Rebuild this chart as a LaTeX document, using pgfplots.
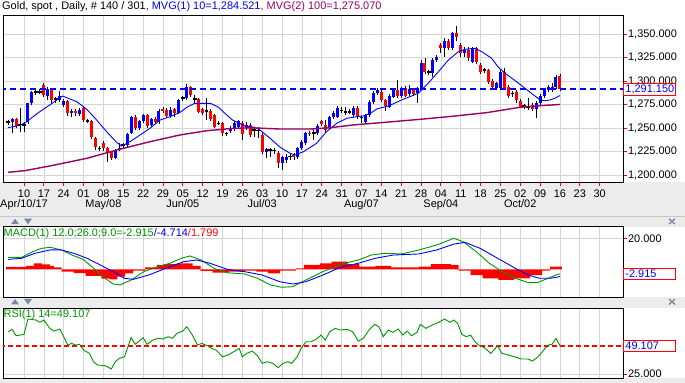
\documentclass[border=0pt]{standalone}
\usepackage{pgfplots}
\pgfplotsset{compat=1.18}
\usepackage{pgfplotstable}
\usepackage{fontspec}
\setmainfont{Liberation Sans}
\definecolor{mvgtwo}{RGB}{153,0,102}
\definecolor{gridc}{RGB}{212,212,212}
\definecolor{bandc}{RGB}{236,236,236}
\definecolor{macdg}{RGB}{0,150,0}
\definecolor{arrowc}{RGB}{120,135,170}
\definecolor{dashblue}{RGB}{0,0,255}
\definecolor{dashred}{RGB}{255,0,0}

\pgfplotstableread{
i o h l c
1 1256.3 1259.0 1253.0 1256.5
2 1256.7 1261.0 1244.3 1259.6
3 1259.6 1261.0 1250.0 1252.1
4 1254.0 1270.9 1246.1 1254.2
5 1253.3 1256.0 1246.0 1253.5
6 1256.7 1277.0 1255.0 1276.2
7 1276.2 1289.5 1275.0 1288.6
8 1289.0 1290.0 1285.0 1288.8
9 1288.5 1291.0 1286.0 1288.7
10 1295.7 1297.5 1284.0 1285.1
11 1284.0 1294.0 1279.8 1291.0
12 1290.4 1292.0 1277.0 1279.8
13 1280.8 1283.0 1277.0 1281.0
14 1279.8 1289.0 1278.0 1284.0
15 1274.2 1281.0 1272.0 1278.8
16 1279.1 1280.0 1263.0 1265.6
17 1265.6 1270.0 1262.0 1268.4
18 1268.4 1270.0 1263.0 1265.6
19 1264.9 1271.0 1263.0 1269.1
20 1270.9 1272.0 1257.0 1258.5
21 1258.0 1259.5 1256.0 1257.8
22 1257.8 1259.0 1238.0 1240.1
23 1239.0 1240.0 1227.0 1229.4
24 1228.6 1231.0 1226.0 1228.4
25 1234.4 1236.0 1226.0 1228.4
26 1228.4 1230.0 1214.2 1224.1
27 1224.8 1226.0 1216.0 1218.4
28 1218.4 1228.0 1217.0 1226.6
29 1226.6 1233.7 1225.9 1229.1
30 1231.6 1234.0 1229.0 1231.9
31 1231.9 1245.0 1230.0 1243.6
32 1245.0 1263.0 1244.0 1261.3
33 1261.3 1264.0 1248.0 1249.6
34 1249.6 1259.0 1248.0 1257.4
35 1257.4 1265.0 1256.0 1263.8
36 1263.8 1265.0 1251.0 1252.1
37 1253.2 1261.0 1252.0 1259.2
38 1259.2 1262.0 1255.0 1256.7
39 1256.7 1270.0 1255.0 1268.4
40 1269.9 1272.0 1266.0 1268.4
41 1269.1 1271.0 1261.0 1262.8
42 1262.8 1272.0 1261.0 1269.1
43 1269.9 1271.0 1262.0 1265.6
44 1266.3 1281.0 1265.0 1279.8
45 1282.0 1284.0 1279.0 1282.3
46 1281.6 1297.0 1280.0 1294.0
47 1294.0 1295.0 1283.0 1285.1
48 1280.8 1285.1 1276.2 1281.0
49 1280.8 1282.0 1266.0 1267.4
50 1269.9 1271.0 1264.0 1266.3
51 1268.4 1281.6 1258.5 1268.2
52 1268.4 1270.0 1258.0 1259.2
53 1263.8 1265.0 1250.0 1251.4
54 1255.0 1257.0 1253.0 1255.2
55 1255.0 1256.0 1242.0 1244.3
56 1244.3 1246.0 1241.0 1244.5
57 1247.1 1252.0 1245.0 1249.7
58 1248.6 1257.0 1247.0 1255.0
59 1251.4 1259.0 1250.0 1257.4
60 1255.0 1257.0 1237.2 1243.6
61 1249.7 1256.0 1248.0 1253.2
62 1253.0 1255.0 1241.0 1243.0
63 1247.6 1251.4 1240.8 1247.9
64 1248.0 1251.4 1239.7 1247.8
65 1242.6 1245.0 1222.0 1224.8
66 1224.8 1229.0 1217.7 1227.3
67 1226.4 1229.1 1219.5 1226.6
68 1226.6 1229.0 1222.0 1226.4
69 1223.0 1225.0 1207.1 1212.4
70 1212.4 1220.0 1205.3 1218.8
71 1216.0 1222.0 1213.0 1219.5
72 1219.5 1222.0 1216.0 1219.7
73 1221.3 1223.0 1216.0 1218.8
74 1218.8 1230.0 1217.0 1228.4
75 1228.4 1237.0 1227.0 1235.4
76 1233.7 1246.0 1232.0 1244.3
77 1245.0 1247.0 1242.0 1243.6
78 1244.8 1249.7 1237.2 1245.0
79 1245.0 1254.0 1243.0 1252.1
80 1257.4 1259.0 1252.0 1254.3
81 1253.2 1258.5 1246.0 1247.9
82 1249.7 1263.0 1248.0 1261.4
83 1261.4 1268.0 1260.0 1266.3
84 1262.0 1273.0 1261.0 1271.0
85 1268.9 1272.0 1266.0 1269.1
86 1267.5 1272.7 1263.8 1267.3
87 1267.3 1270.0 1265.0 1267.5
88 1263.8 1273.0 1262.0 1271.0
89 1271.0 1273.0 1260.0 1261.4
90 1261.2 1264.0 1255.0 1261.4
91 1256.7 1265.0 1255.0 1263.8
92 1263.8 1280.0 1262.0 1278.0
93 1278.0 1289.0 1276.0 1287.6
94 1287.6 1293.0 1285.0 1290.4
95 1288.6 1291.0 1278.0 1279.8
96 1279.8 1281.0 1268.4 1273.4
97 1272.7 1286.0 1271.0 1284.0
98 1283.3 1292.0 1282.0 1290.4
99 1290.4 1301.1 1282.0 1284.0
100 1284.0 1294.0 1282.0 1292.2
101 1292.2 1295.0 1283.0 1284.0
102 1286.2 1296.0 1285.0 1291.5
103 1290.4 1292.0 1284.0 1286.2
104 1286.9 1294.0 1276.6 1292.2
105 1292.2 1322.0 1290.0 1318.8
106 1318.8 1324.0 1308.0 1309.9
107 1309.7 1312.0 1306.0 1309.9
108 1308.2 1324.0 1304.0 1322.3
109 1322.3 1328.0 1320.0 1325.8
110 1338.3 1340.0 1330.0 1334.8
111 1334.8 1346.0 1326.0 1342.8
112 1342.8 1345.0 1333.0 1334.8
113 1334.8 1352.0 1333.0 1350.7
114 1350.7 1358.8 1343.0 1347.1
115 1338.3 1340.0 1325.0 1329.5
116 1329.5 1336.0 1325.0 1333.0
117 1333.0 1336.0 1321.0 1324.1
118 1320.6 1336.0 1319.0 1334.8
119 1334.8 1336.0 1318.0 1320.6
120 1317.0 1319.0 1307.0 1309.9
121 1311.5 1314.0 1309.0 1311.7
122 1311.7 1313.0 1297.0 1299.3
123 1300.0 1302.0 1291.0 1293.9
124 1292.2 1299.0 1290.0 1297.5
125 1292.2 1312.0 1291.0 1309.9
126 1309.9 1314.0 1290.0 1292.2
127 1293.9 1296.0 1282.0 1284.0
128 1287.1 1289.0 1283.0 1286.9
129 1288.6 1290.0 1277.0 1279.8
130 1279.0 1281.0 1271.0 1272.7
131 1273.2 1276.0 1270.0 1273.4
132 1272.5 1281.6 1269.1 1272.7
133 1274.5 1277.0 1268.0 1269.9
134 1269.9 1279.0 1260.3 1276.9
135 1276.9 1286.0 1275.0 1284.0
136 1284.0 1292.0 1282.0 1290.4
137 1290.4 1296.0 1288.0 1293.3
138 1290.4 1297.5 1289.0 1293.3
139 1293.9 1306.0 1292.0 1303.9
140 1305.3 1307.4 1290.0 1291.15
}\candles

\pgfplotsset{
  panel/.style={
    scale only axis, width=620bp, xmin=-0.29, xmax=155.88,
    anchor=south west,
    axis line style={black, line width=0.9bp},
    xtick={5,10,...,150},
    xmajorgrids, ymajorgrids,
    grid style={gridc, line width=0.7bp},
    tick align=outside, xtick pos=left, ytick pos=right,
    ytick style={red, line width=0.9bp},
    major tick length=4bp,
    tick label style={font=\fontsize{11}{13}\selectfont},
    yticklabel style={xshift=-2.4bp},
  },
  pricebox/.style={grid=none, major tick length=0pt,
    yticklabel style={draw=red, line width=0.9bp, text=blue, fill=white,
      xshift=2.4bp, inner xsep=2bp, inner ysep=1.5bp, text width=48bp, align=left}},
  candleseg/.style n args={2}{draw=none, mark=none, error bars/.cd, y dir=both, y explicit,
    error mark=none, error bar style={draw=#1, line width=#2, line cap=butt}},
}

\begin{document}
\begin{tikzpicture}
\useasboundingbox (0,0) rectangle (685bp,383bp);
\fill[white] (0,0) rectangle (685bp,383bp);
\fill[bandc] (0,156.3bp) rectangle (685bp,201bp);
\fill[bandc] (0,74.7bp) rectangle (685bp,85.7bp);
\fill[bandc] (0,0) rectangle (685bp,4.5bp);
\draw[gray!45, line width=0.8bp] (0,166.8bp) -- (685bp,166.8bp);
\fill[arrowc] (11bp,158.8bp) -- (19bp,158.8bp) -- (15bp,164.3bp) -- cycle;
\fill[arrowc] (24bp,164.3bp) -- (32bp,164.3bp) -- (28bp,158.8bp) -- cycle;
\draw[arrowc, line width=1.3bp] (669bp,158.8bp) -- (675bp,164.3bp) (669bp,164.3bp) -- (675bp,158.8bp);
\fill[arrowc] (11bp,78.5bp) -- (19bp,78.5bp) -- (15bp,84bp) -- cycle;
\fill[arrowc] (24bp,84bp) -- (32bp,84bp) -- (28bp,78.5bp) -- cycle;
\draw[arrowc, line width=1.3bp] (669bp,78.5bp) -- (675bp,84bp) (669bp,84bp) -- (675bp,78.5bp);

% ---------------- main price panel ----------------
\begin{axis}[panel, at={(3bp,201bp)}, height=167bp,
  ymin=1192.55, ymax=1370.2,
  ytick={1200,1225,...,1350},
  yticklabels={{1,200.000},{1,225.000},{1,250.000},{1,275.000},{1,300.000},{1,325.000},{1,350.000}},
  xticklabels={10,17,24,01,08,15,22,29,05,12,19,26,03,10,17,24,31,07,14,21,28,04,11,18,25,02,09,16,23,30},
  xtick style={red, line width=0.9bp},
  extra x ticks={5,25,45,65,90,110,130},
  extra x tick labels={Apr/10/17,May/08,Jun/05,Jul/03,Aug/07,Sep/04,Oct/02},
  extra x tick style={grid=none, major tick length=0pt, xticklabel style={yshift=-14bp}},
  extra y ticks={1291.15},
  extra y tick labels={1{,}291.150},
  extra y tick style={pricebox},
]
% upper and lower wicks
\addplot[candleseg={black}{0.9bp}] table[x=i,
  y expr={(\thisrow{h}+max(\thisrow{o},\thisrow{c}))/2},
  y error expr={(\thisrow{h}-max(\thisrow{o},\thisrow{c}))/2}] {\candles};
\addplot[candleseg={black}{0.9bp}] table[x=i,
  y expr={(\thisrow{l}+min(\thisrow{o},\thisrow{c}))/2},
  y error expr={(min(\thisrow{o},\thisrow{c})-\thisrow{l})/2}] {\candles};
% bodies
\addplot[restrict expr to domain={\thisrow{c}-\thisrow{o}}{0.35:1000}, candleseg={blue}{3bp}]
  table[x=i, y expr={(\thisrow{o}+\thisrow{c})/2}, y error expr={abs(\thisrow{c}-\thisrow{o})/2}] {\candles};
\addplot[restrict expr to domain={\thisrow{c}-\thisrow{o}}{-1000:-0.35}, candleseg={red}{3bp}]
  table[x=i, y expr={(\thisrow{o}+\thisrow{c})/2}, y error expr={abs(\thisrow{c}-\thisrow{o})/2}] {\candles};
\addplot[restrict expr to domain={\thisrow{c}-\thisrow{o}}{-0.32:0.32}, candleseg={black}{3.6bp}]
  table[x=i, y=c, y error expr=0.55] {\candles};
% MVG(1) 10
\addplot[blue, line width=0.9bp] coordinates {
(1,1250.4) (4,1252.8) (5.7,1256.7) (7.3,1262.1) (9,1267.4) (11.5,1274.5) (14.7,1284.0)
(18.3,1278.0) (20.8,1269.9) (23.3,1258.5) (25.8,1246.1) (28.4,1234.4) (29.6,1230.8)
(31.7,1235.4) (34.2,1242.5) (36.7,1249.6) (39.3,1258.5) (41.8,1262.1) (44.3,1266.6)
(46,1272) (48,1276.2) (52,1276.2) (54,1272) (55.6,1265.6) (57.5,1258.5) (60.7,1252.1)
(63.2,1250.7) (64.4,1247.9) (67,1239.0) (69.5,1229.5) (72,1223.1) (73.3,1221.3)
(75.4,1224.8) (78.7,1233.7) (81.2,1246.1) (83.8,1255.0) (86.3,1260.3) (88.8,1262.0)
(90.5,1262.8) (92.2,1265.6) (94,1270.5) (96.8,1273.4) (100.1,1279.8) (102.6,1284)
(104.3,1286.9) (106.8,1297.5) (109.4,1309.9) (111.9,1322.3) (114.4,1331.2) (116.1,1333.7)
(118.6,1334.8) (120.3,1331.2) (122.8,1324.1) (124.5,1314.5) (126.2,1308.2) (128.7,1300.4)
(131.2,1292.2) (133.7,1284) (135,1279.8) (136.2,1279) (137.5,1279.8) (138.7,1281.6) (140,1284.521)};
% MVG(2) 100
\addplot[mvgtwo, line width=1.4bp] coordinates {
(1,1202.9) (5.2,1204.6) (11.5,1209.6) (20.8,1217.7) (28.4,1226.6) (36.7,1235.4)
(44.3,1242.6) (51,1247.1) (56.9,1249.3) (61.9,1250.3) (69.5,1248.9) (77,1248.9)
(82.1,1250.3) (87.9,1253.2) (94.7,1255.6) (104.7,1259.2) (113,1262.5) (121.5,1266.3)
(129.9,1272) (135,1273.7) (140,1275.07)};
\addplot[draw=dashblue, line width=1.8bp, dash pattern=on 6bp off 4bp] coordinates {(-1,1291.15) (157,1291.15)};
\end{axis}

% ---------------- MACD panel ----------------
\begin{axis}[panel, at={(3bp,85.7bp)}, height=70.6bp,
  ymin=-18.06, ymax=27.48,
  ytick={20}, yticklabels={20.000},
  xticklabels={}, xtick style={draw=none},
  extra y ticks={-2.915}, extra y tick labels={-2.915},
  extra y tick style={pricebox},
]
\addplot[ybar interval, fill=red, draw=none] coordinates {
(0.5,1.5) (5.5,2.2) (7.5,3.9) (9.5,3.2) (11.5,2.2) (12.5,1.3) (14.5,-1.5) (17.5,-2.5)
(20.5,-4.2) (24.5,-6.0) (26.5,-6.5) (28.5,-4.7) (30.5,-2.6) (32.5,-0.9) (35.5,1.3)
(38.5,2.8) (40.5,3.4) (43.5,3.9) (47.5,2.2) (49.5,-1.0) (52.5,-2.2) (56.5,-1.5)
(60.5,-0.9) (63.5,-1.5) (66.5,-2.6) (69.5,-0.9) (73.5,0.6) (75.5,2.8) (79.5,3.9)
(82.5,4.9) (86.5,3.4) (89.5,1.7) (93.5,2.2) (97.5,1.3) (104.5,1.7) (107.5,3.4)
(112.5,2.8) (114.5,-0.9) (117.5,-3.7) (120.5,-5.8) (124.5,-6.9) (128.5,-5.8)
(132.5,-3.7) (135.5,-0.9) (137.5,1.8) (140.5,0)};
\addplot[macdg, line width=0.9bp] coordinates {
(1,7.7) (4.4,7.7) (7.2,11.4) (9.4,13.5) (11.6,14.2) (14.4,12.5) (17.1,9.2) (19.9,6.4)
(22.6,0.6) (25.4,-5.8) (27.5,-9.5) (29.2,-10.1) (32,-6.9) (35.2,-1.5) (38.6,1.7)
(41.8,3.9) (44.6,7.1) (46.8,8.6) (49.6,6.0) (52.9,0.6) (56.2,-2.2) (60.5,-3.0)
(63.8,-5.8) (67.1,-10.1) (69.9,-11.6) (72.7,-11.2) (76,-6.9) (80.3,-1.5) (84.7,3.2)
(89.2,6.0) (92.5,9.2) (95.8,10.3) (100.1,9.9) (104.5,12.5) (109,15.7) (113.3,20.0)
(115.6,17.8) (118.9,11.4) (122.2,3.9) (125.5,-1.5) (128.8,-5.8) (132.1,-8.6)
(134.3,-8.6) (137,-5.8) (139,-3.6) (140,-2.915)};
\addplot[blue, line width=0.9bp] coordinates {
(1,6.4) (4.4,7.1) (7.7,10.3) (11.6,12.5) (14.4,12.5) (17.6,10.3) (20.9,7.1) (24.2,2.8)
(27.5,-1.5) (30.3,-5.8) (32.5,-6.5) (36.4,-3.7) (40.7,0.6) (45.2,4.9) (48.5,6.0)
(51.8,3.9) (56.2,0.0) (60.5,-1.5) (65,-3.7) (69.4,-8.0) (72.7,-9.5) (76,-8.0)
(80.3,-3.7) (84.7,1.3) (89.2,3.9) (93.5,7.1) (98,9.2) (104.5,9.9) (109,12.5)
(113.3,16.3) (116.1,17.4) (119.9,13.5) (124.3,7.1) (128.8,0.6) (132.1,-3.7)
(134.8,-5.8) (137.6,-5.8) (140,-4.714)};
\end{axis}

% ---------------- RSI panel ----------------
\begin{axis}[panel, at={(3bp,4.5bp)}, height=70.2bp,
  ymin=21.2, ymax=81.0,
  ytick={25}, yticklabels={25.000},
  xticklabels={}, xtick style={draw=none},
  extra y ticks={49.107}, extra y tick labels={49.107},
  extra y tick style={pricebox},
]
\addplot[draw=dashred, line width=1.6bp, dash pattern=on 5bp off 3bp] coordinates {(-1,49.107) (157,49.107)};
\addplot[macdg, line width=0.9bp] coordinates {
(1,61.0) (2,63.1) (3,57.6) (5,58.8) (6,71.9) (8,71.0) (9,69.1) (10,71.0) (11.5,63.9)
(12.5,61.6) (14,63.3) (15,56.8) (16,49.7) (17,51.1) (18,49.7) (19,50.3) (20,45.4)
(21.5,42.6) (22.5,35.5) (23.5,32.7) (25.5,32.1) (27,29.3) (28,35.5) (29,38.3)
(30.3,39.7) (32,56.2) (33,50.3) (35,55.9) (36,50.3) (37.4,53.9) (38.8,55.4) (40,54.8)
(41.3,56.8) (42.4,55.4) (43.5,59.6) (45,61.6) (46,65.3) (47.3,58.8) (48.7,49.7)
(49.8,51.1) (51.2,49.1) (52.3,46.8) (53.4,45.4) (55,39.7) (56.4,41.2) (57.8,44.0)
(59.2,46.8) (60,39.7) (61.1,42.6) (62.5,44.6) (63.8,40.6) (65,34.1) (66.3,35.5)
(67.7,34.1) (69,30.4) (70.2,34.1) (71.5,35.5) (72.4,34.1) (73.8,39.7) (74.8,46.8)
(76,52.5) (77.3,52.5) (78.7,54.8) (79.8,58.2) (80.9,53.9) (82,61.0) (83.4,63.9)
(84.7,62.5) (86.4,63.1) (87.8,61.0) (89.2,53.1) (90.5,55.4) (91.9,62.5) (93.3,67.3)
(94.4,65.3) (95.5,56.8) (96.8,62.5) (97.9,60.5) (99.3,63.3) (100.4,58.2) (101.5,61.6)
(102.6,57.6) (104,60.5) (104.8,67.3) (106.2,63.9) (107.8,66.7) (109.5,69.1) (110.9,71.9)
(112.3,69.1) (113.3,71.0) (114.2,68.2) (115.3,58.8) (116.4,56.8) (117.5,58.2) (118.6,52.5)
(119.7,49.1) (121,47.4) (122.6,42.6) (124.3,49.1) (125.4,42.6) (127,41.2) (128.6,39.7)
(130.3,37.8) (131.9,37.8) (133.1,36.1) (134.5,39.7) (135.9,45.4) (137,49.7) (138,50.3)
(139,55.4) (140,49.107)};
\end{axis}

% ---------------- texts ----------------
\node[anchor=west, inner sep=0, font=\fontsize{11}{13}\selectfont] at (2bp,376bp)
  {Gold, spot , Daily, \# 140 / 301\textcolor{blue}{ , MVG(1) 10=1,284.521}\textcolor{mvgtwo}{ , MVG(2) 100=1,275.070}};
\node[anchor=west, inner sep=0, font=\fontsize{11}{13}\selectfont] at (3.5bp,149bp)
  {\textcolor{macdg}{MACD(1) 12.0;26.0;9.0=-2.915}\textcolor{blue}{/-4.714}\textcolor{red}{/1.799}};
\node[anchor=west, inner sep=0, font=\fontsize{11}{13}\selectfont, text=macdg] at (3.5bp,68bp)
  {RSI(1) 14=49.107};
\end{tikzpicture}
\end{document}
